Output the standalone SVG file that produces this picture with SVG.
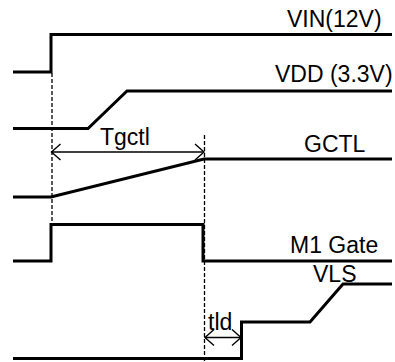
<svg xmlns="http://www.w3.org/2000/svg" width="395" height="362" viewBox="0 0 395 362">
<defs>
<style>
.sig{fill:none;stroke:#000;stroke-width:3;stroke-linejoin:miter}
.dash{fill:none;stroke:#000;stroke-width:1.3;stroke-dasharray:4 2}
.dim{fill:none;stroke:#000;stroke-width:1.3}
.lbl{font-family:"Liberation Sans",Arial,sans-serif;font-size:23px;fill:#000}
</style>
<marker id="arr" markerUnits="userSpaceOnUse" viewBox="-11 -9 13 18" refX="0" refY="0" markerWidth="13" markerHeight="18" orient="auto-start-reverse">
<path d="M-9,-8 L0,0 L-9,8" fill="none" stroke="#000" stroke-width="1.4"/>
</marker>
</defs>
<rect width="395" height="362" fill="#fff"/>
<g id="VIN">
<path class="sig" d="M13,72 H51 V34.5 H392"/>
<text class="lbl" x="287" y="27">VIN(12V)</text>
</g>
<g id="VDD">
<path class="sig" d="M13,128.5 H88 L127,91 H392"/>
<text class="lbl" x="275" y="82">VDD (3.3V)</text>
</g>
<g id="GCTL">
<path class="sig" d="M13,197 H51 L204,159 H392"/>
<text class="lbl" x="304" y="152">GCTL</text>
</g>
<g id="M1Gate">
<path class="sig" d="M13,261 H51 V224.5 H203 V261 H392"/>
<text class="lbl" x="290" y="253">M1 Gate</text>
</g>
<g id="VLS">
<path class="sig" d="M13,358.5 H241.5 V322 H310 L343,284 H392"/>
<text class="lbl" x="313" y="282">VLS</text>
</g>
<g id="connectors">
<line class="dash" x1="52" y1="73" x2="52" y2="224"/>
<line class="dash" x1="204.5" y1="135" x2="204.5" y2="362"/>
<line class="dim" x1="51.5" y1="152" x2="204" y2="152" marker-start="url(#arr)" marker-end="url(#arr)"/>
<line class="dim" x1="205" y1="337.5" x2="241" y2="337.5" marker-start="url(#arr)" marker-end="url(#arr)"/>
</g>
<g id="dimlabels">
<text class="lbl" x="100" y="145">Tgctl</text>
<text class="lbl" x="208" y="330">tld</text>
</g>
</svg>
